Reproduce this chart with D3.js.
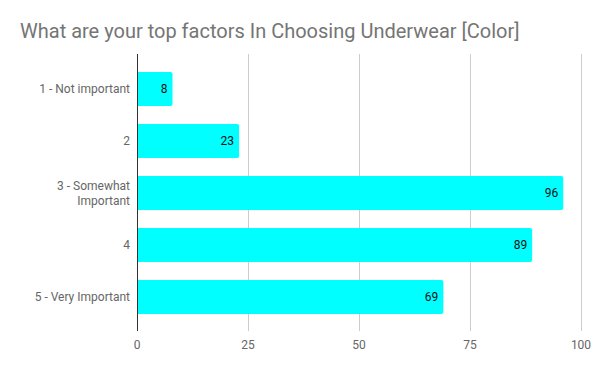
<!DOCTYPE html>
<html>
<head>
<meta charset="utf-8">
<script src="https://cdn.jsdelivr.net/npm/d3@7"></script>
<style>
  body { margin: 0; background: #fff; }
  svg { font-family: Roboto, "Noto Sans", sans-serif; }
</style>
</head>
<body>
<svg id="chart" width="600" height="371"></svg>
<script>
var categories = ["1 - Not important", "2", "3 - Somewhat Important", "4", "5 - Very Important"];
var categoryLines = [["1 - Not important"], ["2"], ["3 - Somewhat", "Important"], ["4"], ["5 - Very Important"]];
var values = [8, 23, 96, 89, 69];
var xTicks = [0, 25, 50, 75, 100];
var title = "What are your top factors In Choosing Underwear [Color]";

var svg = d3.select("#chart");

var x = d3.scaleLinear().domain([0, 100]).range([137, 581]);
var y = d3.scaleBand().domain(categories).range([63, 323])
    .paddingInner(18 / 52).paddingOuter(9 / 52);

svg.append("rect").attr("width", 600).attr("height", 371).attr("fill", "#fff");

svg.append("text")
    .attr("x", 20)
    .attr("y", 38)
    .attr("fill", "#757575")
    .style("font-size", "20px")
    .text(title);

// gridlines
svg.append("g").selectAll("line")
    .data(xTicks.slice(1))
    .enter().append("line")
    .attr("x1", function (d) { return x(d) + 0.5; })
    .attr("x2", function (d) { return x(d) + 0.5; })
    .attr("y1", 54)
    .attr("y2", 331)
    .attr("stroke", "#cccccc")
    .attr("stroke-width", 1);

// bars with rounded right end
svg.append("g").selectAll("path")
    .data(values)
    .enter().append("path")
    .attr("fill", "#00ffff")
    .attr("d", function (d, i) {
        var x0 = x(0), x1 = x(d), y0 = y(categories[i]), h = y.bandwidth(), r = 2;
        return "M" + x0 + "," + y0 + "H" + (x1 - r) + "Q" + x1 + "," + y0 + " " + x1 + "," + (y0 + r) +
            "V" + (y0 + h - r) + "Q" + x1 + "," + (y0 + h) + " " + (x1 - r) + "," + (y0 + h) + "H" + x0 + "Z";
    });

// baseline axis
svg.append("line")
    .attr("x1", x(0) + 0.5).attr("x2", x(0) + 0.5)
    .attr("y1", 54).attr("y2", 331)
    .attr("stroke", "#333").attr("stroke-width", 1);

// value labels
svg.append("g").selectAll("text")
    .data(values)
    .enter().append("text")
    .attr("x", function (d) { return x(d) - 5; })
    .attr("y", function (d, i) { return y(categories[i]) + y.bandwidth() / 2; })
    .attr("dy", "0.35em")
    .attr("text-anchor", "end")
    .attr("fill", "#111")
    .style("font-size", "12px")
    .text(function (d) { return d; });

// category labels
var cat = svg.append("g").selectAll("text")
    .data(categoryLines)
    .enter().append("text")
    .attr("text-anchor", "end")
    .attr("fill", "#666")
    .style("font-size", "12px")
    .attr("y", function (d, i) { return y(categories[i]) + y.bandwidth() / 2 - (d.length - 1) * 7.5; });

cat.selectAll("tspan")
    .data(function (d) { return d; })
    .enter().append("tspan")
    .attr("x", 130)
    .attr("dy", function (d, j) { return j === 0 ? "0.35em" : "15px"; })
    .text(function (d) { return d; });

// x tick labels
svg.append("g").selectAll("text")
    .data(xTicks)
    .enter().append("text")
    .attr("x", function (d) { return x(d); })
    .attr("y", 345)
    .attr("dy", "0.35em")
    .attr("text-anchor", "middle")
    .attr("fill", "#666")
    .style("font-size", "12px")
    .text(function (d) { return d; });
</script>
</body>
</html>
